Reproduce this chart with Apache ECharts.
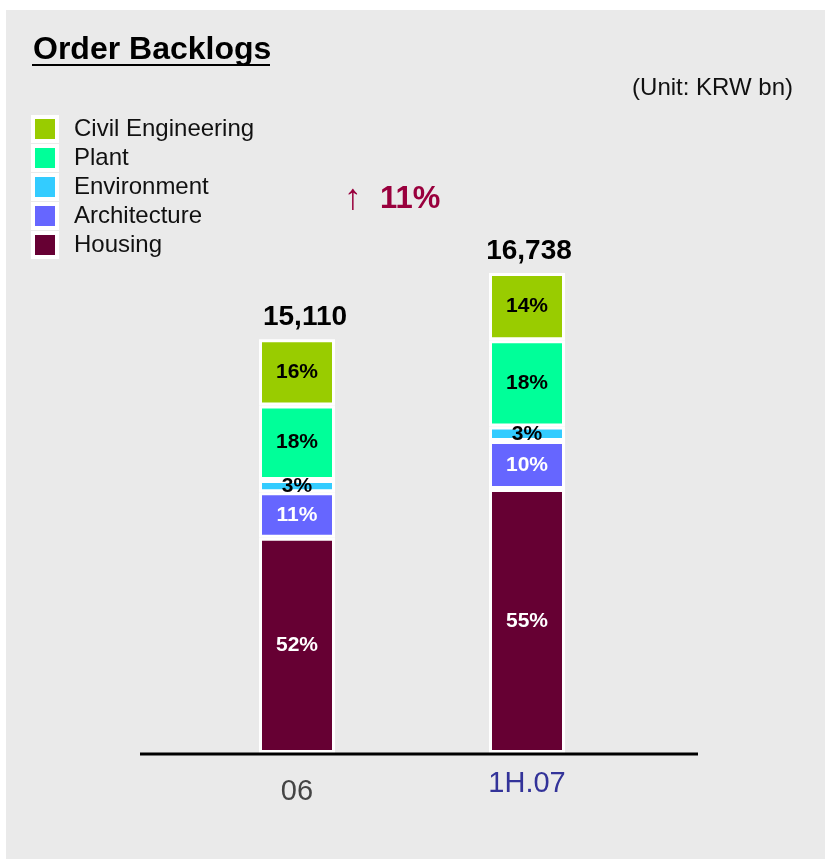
<!DOCTYPE html>
<html>
<head>
<meta charset="utf-8">
<title>Order Backlogs</title>
<script src="https://cdn.jsdelivr.net/npm/echarts@6/dist/echarts.min.js"></script>
<style>
  html, body { margin: 0; padding: 0; background: #fff; }
  .panel { position: absolute; left: 6px; top: 10px; width: 819px; height: 849px; background: #eaeaea; }
  #chart { position: absolute; left: 0; top: 0; width: 825px; height: 859px; }
</style>
</head>
<body>
<div class="panel"></div>
<div id="chart"></div>
<script>
// period on the x axis
const categories = ['06', '1H.07']
// share of each business in the backlog (%)
const housing = [52, 55]
const architecture = [11, 10]
const environment = [3, 3]
const plant = [18, 18]
const civil = [16, 14]
// total backlog (KRW bn)
const totals = [15110, 16738]
const growth = '11%'

const segments = [
  { name: 'Housing', values: housing, color: '#660033', text: '#fff' },
  { name: 'Architecture', values: architecture, color: '#6666ff', text: '#fff' },
  { name: 'Environment', values: environment, color: '#33ccff', text: '#000' },
  { name: 'Plant', values: plant, color: '#00ff99', text: '#000' },
  { name: 'Civil Engineering', values: civil, color: '#99cc00', text: '#000' }
]

const font = '"Liberation Sans", Arial, sans-serif'
// each bar has its own (hidden) value axis so the two bars can differ in height
const axisMax = [116, 100]
const totalOffset = [[8, 0], [2, 0]]

const series = []
categories.forEach((cat, b) => {
  segments.forEach(seg => {
    series.push({
      name: seg.name,
      type: 'bar',
      stack: 'bar' + b,
      yAxisIndex: b,
      barWidth: 76,
      barGap: '-100%',
      data: categories.map((c, i) => (i === b ? seg.values[i] : '-')),
      itemStyle: { color: seg.color, borderColor: '#fff', borderWidth: 3 },
      label: {
        show: true,
        position: 'inside',
        formatter: '{c}%',
        color: seg.text,
        fontSize: 21,
        fontWeight: 'bold',
        fontFamily: font
      }
    })
  })
  // empty bar on top of the stack that only carries the total
  series.push({
    name: 'total-' + cat,
    type: 'bar',
    stack: 'bar' + b,
    yAxisIndex: b,
    barWidth: 76,
    barGap: '-100%',
    silent: true,
    data: categories.map((c, i) => (i === b ? 0 : '-')),
    itemStyle: { color: 'transparent', borderWidth: 0 },
    label: {
      show: true,
      position: 'top',
      distance: 8,
      offset: totalOffset[b],
      formatter: () => totals[b].toLocaleString('en-US'),
      color: '#000',
      fontSize: 28,
      fontWeight: 'bold',
      fontFamily: font
    }
  })
})

const chart = echarts.init(document.getElementById('chart'), null, { renderer: 'canvas' })

chart.setOption({
  backgroundColor: 'transparent',
  animation: false,
  textStyle: { fontFamily: font },
  legend: {
    data: segments.map(s => s.name).reverse(),
    orient: 'vertical',
    left: 31,
    top: 115,
    padding: 0,
    itemWidth: 24,
    itemHeight: 24,
    itemGap: 1,
    icon: 'rect',
    selectedMode: false,
    itemStyle: { borderColor: '#fff', borderWidth: 4 },
    textStyle: { fontSize: 24, color: '#111', padding: [0, 0, 0, 12], fontFamily: font }
  },
  grid: { left: 182, right: 183, top: 273, bottom: 106 },
  xAxis: {
    type: 'category',
    data: categories,
    axisLine: { show: false },
    axisTick: { show: false },
    axisLabel: {
      margin: 16,
      formatter: (v, i) => `{c${i}|${v}}`,
      rich: {
        c0: { color: '#444', fontSize: 29, fontFamily: font, padding: [8, 0, 0, 0] },
        c1: { color: '#333399', fontSize: 29, fontFamily: font }
      }
    }
  },
  yAxis: axisMax.map(max => ({
    type: 'value',
    min: 0,
    max: max,
    show: false
  })),
  graphic: [
    {
      type: 'text',
      left: 33,
      top: 34,
      style: { text: 'Order Backlogs', font: 'bold 32px ' + font, fill: '#000' }
    },
    {
      type: 'line',
      shape: { x1: 32, y1: 65, x2: 270, y2: 65 },
      style: { stroke: '#000', lineWidth: 2 }
    },
    {
      type: 'text',
      right: 32,
      top: 76,
      style: { text: '(Unit: KRW bn)', font: '24px ' + font, fill: '#111' }
    },
    {
      type: 'text',
      left: 344,
      top: 181,
      style: {
        text: '{a|↑}{b|' + growth + '}',
        rich: {
          a: { font: '36px ' + font, fill: '#99003d' },
          b: { font: 'bold 31px ' + font, fill: '#99003d', padding: [0, 0, 0, 18] }
        }
      }
    },
    {
      type: 'line',
      z: 100,
      shape: { x1: 140, y1: 754, x2: 698, y2: 754 },
      style: { stroke: '#000', lineWidth: 3 }
    }
  ],
  series: series
})

window.addEventListener('resize', () => chart.resize())
</script>
</body>
</html>
